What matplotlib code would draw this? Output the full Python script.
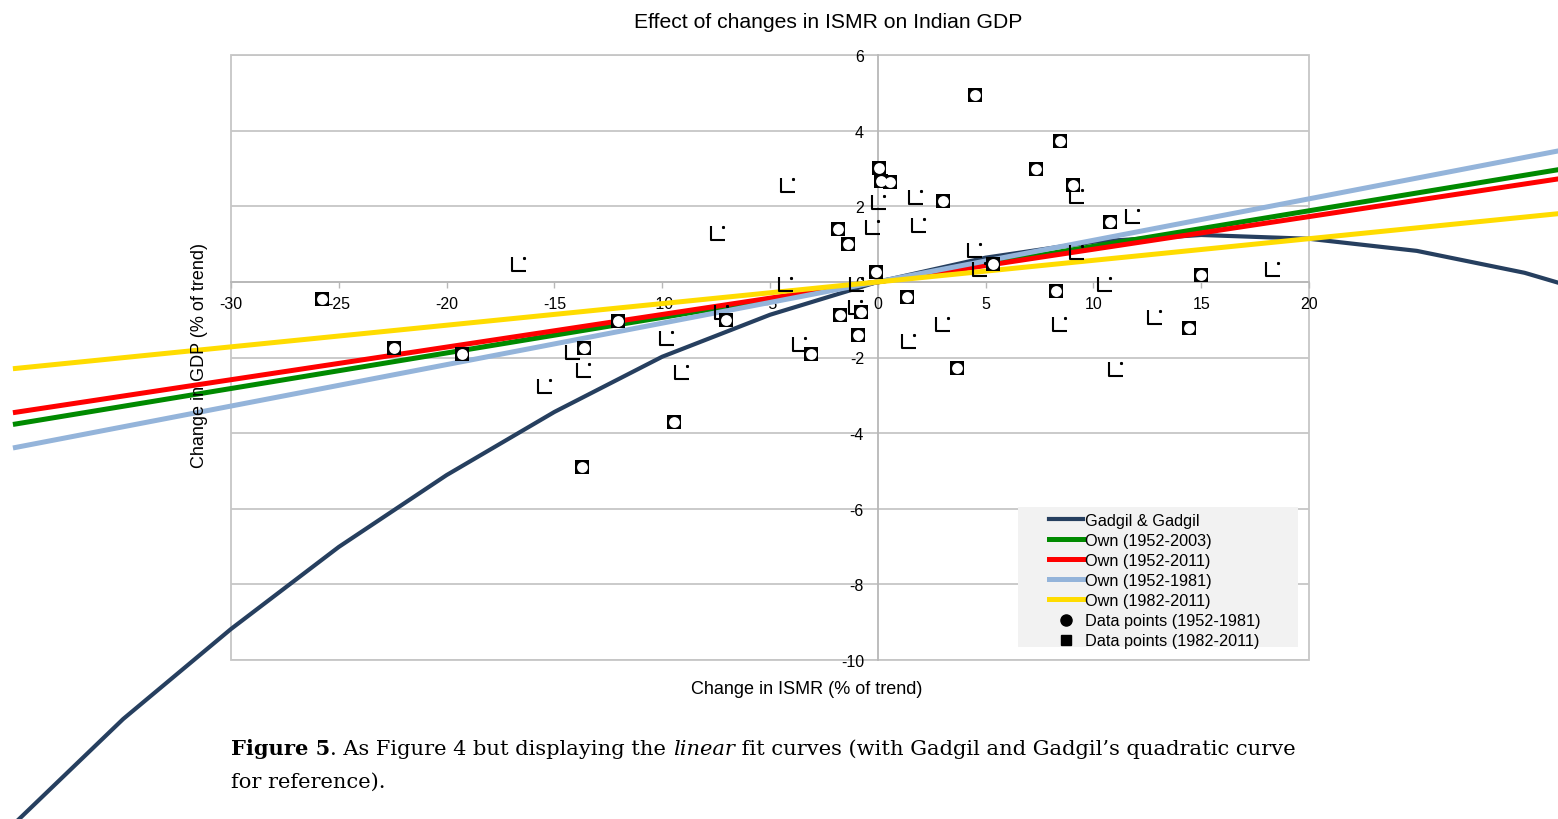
import matplotlib
matplotlib.use("Agg")
import matplotlib.pyplot as plt
from matplotlib.path import Path
from matplotlib.lines import Line2D
from matplotlib.patches import Rectangle

plt.rcParams['axes.unicode_minus'] = False
plt.rcParams['font.family'] = ['Liberation Sans', 'DejaVu Sans']

# ---------------- data ----------------
title = "Effect of changes in ISMR on Indian GDP"
xlabel = "Change in ISMR (% of trend)"
ylabel = "Change in GDP (% of trend)"

pts_early_x = [-25.78, -22.44, -19.28, -13.72, -13.63, -12.05, -9.45, -7.04, -3.10, -1.85,
               -1.39, -1.76, -0.78, -0.92, -0.08, 0.06, 0.15, 0.56, 1.35, 3.02,
               3.67, 4.51, 5.34, 7.35, 8.27, 8.46, 9.06, 10.78, 14.44, 15.00]
pts_early_y = [-0.45, -1.75, -1.90, -4.89, -1.75, -1.03, -3.70, -1.01, -1.90, 1.40,
               1.01, -0.87, -0.79, -1.40, 0.26, 3.02, 2.67, 2.65, -0.40, 2.14,
               -2.28, 4.95, 0.48, 2.99, -0.24, 3.73, 2.57, 1.59, -1.22, 0.19]

pts_late_x = [-16.63, -15.43, -14.13, -13.63, -9.78, -9.08, -7.41, -7.22, -4.17, -4.26,
              -3.61, -0.98, -0.99, -0.23, 0.06, 1.78, 1.92, 1.45, 3.02, 4.51,
              4.74, 8.46, 9.25, 9.25, 10.53, 11.04, 11.83, 12.85, 18.34]
pts_late_y = [0.48, -2.75, -1.85, -2.33, -1.48, -2.38, 1.30, -0.79, 2.57, -0.05,
              -1.64, -0.05, -0.66, 1.46, 2.12, 2.25, 1.51, -1.56, -1.11, 0.85,
              0.34, -1.11, 2.28, 0.79, -0.05, -2.30, 1.75, -0.93, 0.34]

gadgil_x = [-40, -35, -30, -25, -20, -15, -10, -5, 0, 5, 10, 15, 20, 25, 30, 35]
gadgil_y = [-14.3, -11.56, -9.18, -7.01, -5.11, -3.44, -1.98, -0.87, 0.0, 0.64,
            1.06, 1.24, 1.14, 0.82, 0.24, -0.60]

fit_x = [-40, 35]
fit_5203_y = [-3.76, 3.29]
fit_5211_y = [-3.45, 3.02]
fit_5281_y = [-4.38, 3.84]
fit_8211_y = [-2.29, 2.00]

x_ticks = [-30, -25, -20, -15, -10, -5, 0, 5, 10, 15, 20]
y_ticks = [-10, -8, -6, -4, -2, 0, 2, 4, 6]

legend_labels = ["Gadgil & Gadgil", "Own (1952-2003)", "Own (1952-2011)",
                 "Own (1952-1981)", "Own (1982-2011)",
                 "Data points (1952-1981)", "Data points (1982-2011)"]

caption_line1 = [("Figure 5", "bold"), (". As Figure 4 but displaying the ", "normal"),
                 ("linear", "italic"),
                 (" fit curves (with Gadgil and Gadgil\u2019s quadratic curve", "normal")]
caption_line2 = [("for reference).", "normal")]

# ---------------- figure ----------------
W, H = 1558, 820
fig = plt.figure(figsize=(W / 100, H / 100), dpi=100)
ax = fig.add_axes([231 / W, 1 - 661 / H, 1078 / W, 605 / H])
ax.set_xlim(-30, 20)
ax.set_ylim(-10, 6)

grid_c = '#c6c6c6'
for yv in y_ticks:
    ax.axhline(yv, color=grid_c, lw=1.3, zorder=0)
ax.add_patch(Rectangle((0, 0), 1, 1, transform=ax.transAxes, fill=False,
                       edgecolor=grid_c, lw=1.3, zorder=0, clip_on=False))

for s in ['top', 'right']:
    ax.spines[s].set_visible(False)
ax.spines['left'].set_position(('data', 0))
ax.spines['bottom'].set_position(('data', 0))
for s in ['left', 'bottom']:
    ax.spines[s].set_color('#b8b8b8')
    ax.spines[s].set_linewidth(1.3)
    ax.spines[s].set_zorder(0.5)

ax.set_xticks(x_ticks)
ax.set_xticklabels([str(v) for v in x_ticks])
ax.set_yticks(y_ticks)
ax.set_yticklabels([str(v) for v in y_ticks])
ax.tick_params(axis='x', direction='out', length=4, width=1, color='#b8b8b8',
               labelsize=11.5, pad=6)
ax.tick_params(axis='y', length=0, labelsize=11.5, pad=10)

# lines
navy = '#263f5f'
green = '#008a00'
red = '#ff0000'
lblue = '#94b4da'
yellow = '#ffdc00'
ax.plot(gadgil_x, gadgil_y, color=navy, lw=3.0, clip_on=False, zorder=2,
        solid_joinstyle='miter')
ax.plot(fit_x, fit_5203_y, color=green, lw=3.6, clip_on=False, zorder=2.1)
ax.plot(fit_x, fit_5211_y, color=red, lw=3.6, clip_on=False, zorder=2.2)
ax.plot(fit_x, fit_5281_y, color=lblue, lw=3.6, clip_on=False, zorder=2.3)
ax.plot(fit_x, fit_8211_y, color=yellow, lw=3.6, clip_on=False, zorder=2.4)

# markers: early = square frame with white round interior
ax.plot(pts_early_x, pts_early_y, ls='none', marker='s', ms=10.0,
        mfc='black', mec='black', mew=0, zorder=5)
ax.plot(pts_early_x, pts_early_y, ls='none', marker='o', ms=7.8,
        mfc='white', mec='white', mew=0, zorder=6)

# markers: late = "L" glyph with a dot
Lverts = [(-1, 1), (-1, -1), (1, -1),
          (0.78, 0.95), (0.98, 0.95), (0.98, 0.75), (0.78, 0.75), (0.78, 0.95)]
Lcodes = [Path.MOVETO, Path.LINETO, Path.LINETO,
          Path.MOVETO, Path.LINETO, Path.LINETO, Path.LINETO, Path.CLOSEPOLY]
Lmarker = Path(Lverts, Lcodes)
ax.plot(pts_late_x, pts_late_y, ls='none', marker=Lmarker, ms=9.5,
        mfc='none', mec='black', mew=1.5, zorder=5)

# titles
fig.text(828 / W, 1 - 22 / H, title, ha='center', va='center', fontsize=15.2)
fig.text(807 / W, 1 - 690 / H, xlabel, ha='center', va='center', fontsize=13)
fig.text(200 / W, 1 - 356 / H, ylabel, ha='center', va='center', rotation=90,
         fontsize=13)

# legend
fig.patches.append(Rectangle((1018 / W, 1 - 648 / H), 280 / W, 140 / H,
                             transform=fig.transFigure, facecolor='#f2f2f2',
                             edgecolor='none', zorder=7))
handles = [Line2D([], [], color=navy, lw=3.0),
           Line2D([], [], color=green, lw=3.6),
           Line2D([], [], color=red, lw=3.6),
           Line2D([], [], color=lblue, lw=3.6),
           Line2D([], [], color=yellow, lw=3.6),
           Line2D([], [], ls='none', marker='o', ms=8, color='black'),
           Line2D([], [], ls='none', marker='s', ms=7.5, color='black')]
leg = fig.legend(handles, legend_labels, loc='upper left',
                 bbox_to_anchor=(1049 / W, 1 - 514 / H), frameon=False,
                 fontsize=11.7, handlelength=2.1, handletextpad=0.1,
                 labelspacing=0.31, borderpad=0, borderaxespad=0)
leg.set_zorder(8)

# caption with mixed styles
renderer = fig.canvas.get_renderer()
cap_family = ['DejaVu Serif']
cap_state = {'size': 10.0}


def text_width(s, style):
    t = fig.text(0, 0, s + '|', fontsize=cap_state['size'], family=cap_family,
                 fontweight='bold' if style == 'bold' else 'normal',
                 fontstyle='italic' if style == 'italic' else 'normal')
    w1 = t.get_window_extent(renderer).width
    t.set_text('|')
    w2 = t.get_window_extent(renderer).width
    t.remove()
    return w1 - w2


def draw_runs(runs, x0, ybase):
    x = x0
    for s, style in runs:
        fig.text(x / W, 1 - ybase / H, s, fontsize=cap_state['size'], family=cap_family,
                 fontweight='bold' if style == 'bold' else 'normal',
                 fontstyle='italic' if style == 'italic' else 'normal',
                 ha='left', va='baseline')
        x += text_width(s, style)


base_w = sum(text_width(s, st) for s, st in caption_line1)
cap_state['size'] = 10.0 * (1297 - 231) / base_w
draw_runs(caption_line1, 231, 755)
draw_runs(caption_line2, 231, 788)

fig.savefig('out.png', dpi=100)
